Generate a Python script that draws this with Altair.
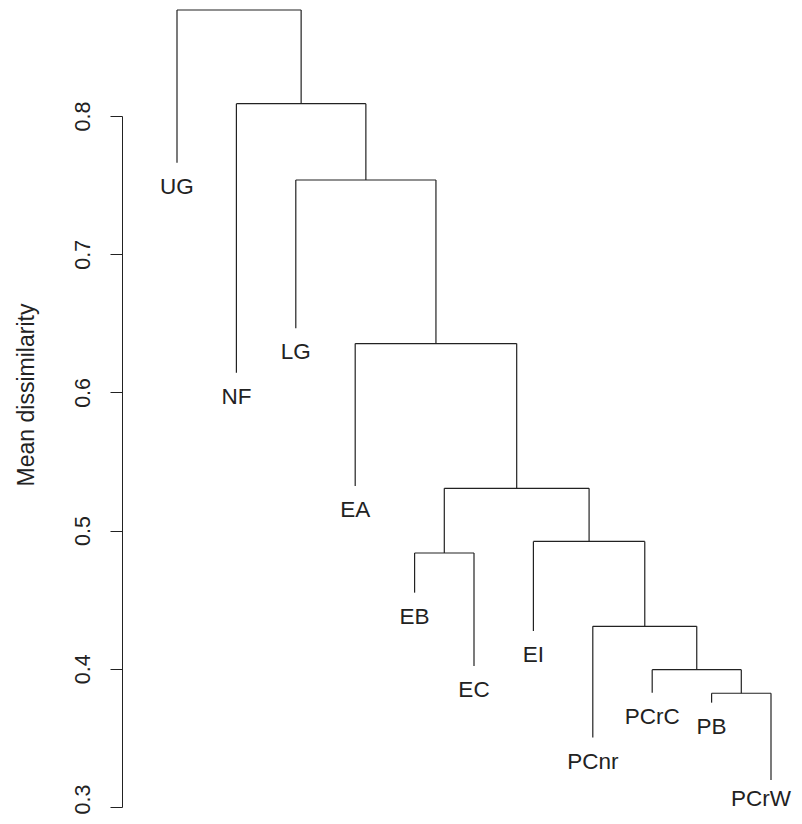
import altair as alt
import pandas as pd

# Leaves in plotting order and their (within-group) mean dissimilarity
leaf_names = ["UG", "NF", "LG", "EA", "EB", "EC", "EI", "PCnr", "PCrC", "PB", "PCrW"]
leaf_heights = [0.7662, 0.6143, 0.6464, 0.5323, 0.4551, 0.4020, 0.4274, 0.3502, 0.3827, 0.3755, 0.3195]

# Merges (R hclust style): negative = leaf number, positive = earlier merge number
merge_left = [-10, -9, -8, -5, -7, 4, -4, -3, -2, -1]
merge_right = [-11, 1, 2, -6, 3, 5, 6, 7, 8, 9]
merge_heights = [0.3823, 0.3994, 0.4307, 0.4838, 0.4922, 0.5306, 0.6353, 0.7537, 0.8089, 0.8767]

y_ticks = [0.3, 0.4, 0.5, 0.6, 0.7, 0.8]

# Build the tree segments from the merge structure
leaf_x = {i + 1: float(i + 1) for i in range(len(leaf_names))}
node_x = {}
node_h = {}


def child_pos(c):
    if c < 0:
        return leaf_x[-c], leaf_heights[-c - 1]
    return node_x[c], node_h[c]


segs = []
for k, (a, b, h) in enumerate(zip(merge_left, merge_right, merge_heights), start=1):
    xa, ha = child_pos(a)
    xb, hb = child_pos(b)
    segs.append({"x": xa, "x2": xb, "y": h, "y2": h})
    segs.append({"x": xa, "x2": xa, "y": ha, "y2": h})
    segs.append({"x": xb, "x2": xb, "y": hb, "y2": h})
    node_x[k] = (xa + xb) / 2
    node_h[k] = h

seg_df = pd.DataFrame(segs)
lab_df = pd.DataFrame({"name": leaf_names, "x": [leaf_x[i + 1] for i in range(len(leaf_names))], "y": leaf_heights})

FONT = "Liberation Sans"
INK = "#222222"

PLOT_W = 672
x_lo = 0.0741
x_hi = x_lo + PLOT_W / 59.4
xs = alt.Scale(domain=[x_lo, x_hi], nice=False, zero=False)
ys = alt.Scale(domain=[0.3, 0.8], nice=False, zero=False)

yaxis = alt.Axis(
    values=y_ticks,
    format=".1f",
    grid=False,
    title="Mean dissimilarity",
    titleFont=FONT,
    titleFontSize=23,
    titleFontWeight="normal",
    titleColor=INK,
    titleAngle=270,
    titleAlign="center",
    titleBaseline="alphabetic",
    titleX=-88.7,
    titleY=278.5,
    labelFont=FONT,
    labelFontSize=21.5,
    labelColor=INK,
    labelAngle=270,
    labelAlign="center",
    labelBaseline="alphabetic",
    labelPadding=21,
    labelOffset=alt.ExprRef(expr="datum.value < 0.35 ? -8 : 0"),
    tickSize=12,
    tickColor=INK,
    tickWidth=1,
    domainColor=INK,
    domainWidth=1,
)

tree = alt.Chart(seg_df).mark_rule(color=INK, strokeWidth=1.2).encode(
    x=alt.X("x:Q", scale=xs, axis=None),
    x2="x2:Q",
    y=alt.Y("y:Q", scale=ys, axis=yaxis),
    y2="y2:Q",
)

labels = alt.Chart(lab_df).mark_text(
    font=FONT,
    fontSize=22.5,
    color=INK,
    baseline="alphabetic",
    align="center",
    dy=alt.ExprRef(expr="datum.name == 'PCrW' ? 26 : 31"),
    dx=alt.ExprRef(expr="datum.name == 'PCrW' ? -10 : 0"),
).encode(
    x=alt.X("x:Q", scale=xs, axis=None),
    y=alt.Y("y:Q", scale=ys),
    text="name:N",
)

chart = (
    alt.layer(tree, labels)
    .properties(
        width=PLOT_W,
        height=691,
        background="white",
        autosize=alt.AutoSizeParams(type="none"),
        padding={"left": 114, "top": 108, "right": 0, "bottom": 7},
    )
    .configure_view(stroke="transparent", strokeWidth=0)
)

chart.save("out.html", embed_options={"renderer": "svg", "actions": False})
